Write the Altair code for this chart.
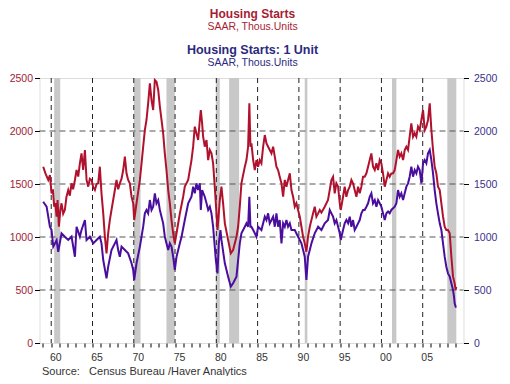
import altair as alt
import pandas as pd

# ---------------- data ----------------
red_year = [1959.03, 1959.3, 1959.64, 1959.84, 1960.04, 1960.2, 1960.36, 1960.5, 1960.65, 1960.77,
            1960.93, 1961.1, 1961.25, 1961.45, 1961.65, 1961.85, 1962.06, 1962.25, 1962.46, 1962.65,
            1962.87, 1963.07, 1963.27, 1963.47, 1963.67, 1963.87, 1964.08, 1964.28, 1964.48, 1964.68,
            1964.88, 1965.09, 1965.29, 1965.49, 1965.69, 1965.89, 1966.09, 1966.30, 1966.50, 1966.70,
            1966.90, 1967.10, 1967.30, 1967.71, 1967.91, 1968.11, 1968.31, 1968.52, 1968.72, 1968.92,
            1969.12, 1969.32, 1969.52, 1969.73, 1969.93, 1970.05, 1970.33, 1970.74, 1970.94, 1971.14,
            1971.34, 1971.54, 1971.74, 1971.95, 1972.15, 1972.35, 1972.55, 1972.75, 1972.96, 1973.16,
            1973.36, 1973.56, 1973.76, 1973.96, 1974.17, 1974.37, 1974.57, 1974.77, 1974.97, 1975.18,
            1975.38, 1975.58, 1975.78, 1975.98, 1976.18, 1976.59, 1976.99, 1977.19, 1977.39, 1977.59,
            1977.80, 1978.00, 1978.12, 1978.28, 1978.40, 1978.60, 1978.81, 1979.01, 1979.21, 1979.41,
            1979.61, 1979.81, 1979.94, 1980.14, 1980.30, 1980.42, 1980.62, 1980.82, 1981.03, 1981.43,
            1981.75, 1982.03, 1982.44, 1982.64, 1982.84, 1983.04, 1983.45, 1983.65, 1983.85, 1984.0,
            1984.13, 1984.25, 1984.46, 1984.66, 1984.86, 1985.06, 1985.26, 1985.46, 1985.67, 1985.87,
            1986.07, 1986.27, 1986.47, 1986.68, 1986.88, 1987.08, 1987.28, 1987.48, 1987.68, 1987.89,
            1988.09, 1988.29, 1988.49, 1988.69, 1988.90, 1989.10, 1989.30, 1989.50, 1989.70, 1989.90,
            1990.11, 1990.31, 1990.51, 1990.71, 1990.91, 1991.11, 1991.32, 1991.52, 1991.72, 1991.92,
            1992.12, 1992.33, 1992.53, 1992.73, 1993.13, 1993.53, 1993.94, 1994.14, 1994.34, 1994.54,
            1994.75, 1994.95, 1995.07, 1995.35, 1995.55, 1995.75, 1995.96, 1996.16, 1996.36, 1996.56,
            1996.76, 1996.97, 1997.17, 1997.37, 1997.57, 1997.77, 1997.97, 1998.18, 1998.38, 1998.58,
            1998.78, 1998.98, 1999.19, 1999.39, 1999.59, 1999.79, 1999.99, 2000.19, 2000.40, 2000.60,
            2000.80, 2001.00, 2001.20, 2001.41, 2001.61, 2001.81, 2002.01, 2002.21, 2002.41, 2002.62,
            2002.82, 2003.02, 2003.22, 2003.42, 2003.62, 2003.83, 2004.03, 2004.23, 2004.43, 2004.63,
            2004.84, 2005.04, 2005.24, 2005.44, 2005.64, 2005.85, 2006.05, 2006.25, 2006.45, 2006.65,
            2006.85, 2007.06, 2007.26, 2007.46, 2007.66, 2007.86, 2008.06, 2008.27, 2008.47, 2008.67,
            2008.87, 2008.99, 2009.05]
red_val = [1663, 1600, 1538, 1585, 1412, 1450, 1286, 1320, 1192, 1349,
           1097, 1250, 1318, 1220, 1255, 1380, 1443, 1390, 1506, 1450,
           1538, 1632, 1570, 1695, 1789, 1632, 1821, 1538, 1475, 1550,
           1538, 1470, 1443, 1500, 1506, 1663, 1412, 1223, 1003, 846,
           1037, 1160, 1255, 1443, 1538, 1450, 1506, 1550, 1632, 1758,
           1601, 1538, 1506, 1380, 1318, 1160, 1318, 1538, 1695, 1852,
           2009, 2104, 2261, 2450, 2292, 2198, 2481, 2465, 2387, 2230,
           2104, 1978, 1789, 1632, 1443, 1318, 1160, 1035, 940, 1035,
           1130, 1223, 1300, 1380, 1475, 1538, 1726, 1852, 2041, 1978,
           1915, 2104, 2198, 2072, 1946, 1852, 1915, 1726, 1821, 1789,
           1695, 1475, 1318, 1066, 1223, 1349, 1475, 1318, 1129, 972,
           846, 877, 1003, 1097, 1286, 1506, 1663, 1726, 1852, 2261,
           1852, 1884, 1726, 1632, 1726, 1663, 1726, 1695, 1852, 1962,
           1884, 1852, 1821, 1789, 1852, 1758, 1663, 1632, 1569, 1506,
           1380, 1538, 1475, 1538, 1601, 1443, 1380, 1286, 1318, 1255,
           1192, 1097, 1003, 940, 861, 1003, 1097, 1160, 1223, 1286,
           1192, 1223, 1255, 1230, 1286, 1349, 1538, 1569, 1412, 1506,
           1475, 1318, 1255, 1380, 1475, 1380, 1443, 1475, 1538, 1506,
           1443, 1380, 1475, 1412, 1475, 1569, 1569, 1601, 1663, 1726,
           1789, 1663, 1632, 1695, 1632, 1726, 1695, 1601, 1475, 1538,
           1601, 1569, 1600, 1601, 1632, 1726, 1821, 1758, 1789, 1726,
           1821, 1852, 1821, 1946, 2072, 1946, 1978, 1946, 2041, 2009,
           2104, 2198, 2009, 2041, 2104, 2261, 2009, 1821, 1663, 1601,
           1475, 1443, 1318, 1192, 1097, 1066, 1066, 1035, 814, 626,
           563, 500, 530]

pur_year = [1959.03, 1959.44, 1959.84, 1960.04, 1960.25, 1960.65, 1960.85, 1961.25, 1961.65, 1962.06,
            1962.46, 1962.87, 1963.07, 1963.47, 1963.67, 1964.08, 1964.28, 1964.68, 1965.09, 1965.49,
            1965.89, 1966.09, 1966.30, 1966.70, 1966.90, 1967.30, 1967.71, 1967.91, 1968.11, 1968.31,
            1968.52, 1968.92, 1969.32, 1969.73, 1969.93, 1970.05, 1970.33, 1970.74, 1970.94, 1971.14,
            1971.34, 1971.54, 1971.74, 1971.95, 1972.15, 1972.35, 1972.55, 1972.75, 1972.96, 1973.16,
            1973.36, 1973.56, 1973.76, 1973.96, 1974.17, 1974.37, 1974.57, 1974.77, 1974.97, 1975.18,
            1975.38, 1975.58, 1975.78, 1976.18, 1976.59, 1976.99, 1977.19, 1977.39, 1977.59, 1977.80,
            1978.00, 1978.12, 1978.28, 1978.60, 1978.81, 1979.01, 1979.21, 1979.41, 1979.61, 1979.81,
            1979.94, 1980.14, 1980.30, 1980.50, 1980.62, 1981.03, 1981.43, 1981.75, 1982.03, 1982.44,
            1982.64, 1982.84, 1983.04, 1983.45, 1983.65, 1983.85, 1984.0, 1984.13, 1984.25, 1984.46,
            1984.66, 1984.86, 1985.06, 1985.46, 1985.87, 1986.07, 1986.27, 1986.47, 1986.68, 1986.88,
            1987.08, 1987.28, 1987.48, 1987.68, 1987.89, 1988.09, 1988.29, 1988.49, 1988.69, 1988.90,
            1989.10, 1989.50, 1989.90, 1990.31, 1990.71, 1990.91, 1991.11, 1991.32, 1991.52, 1991.92,
            1992.33, 1992.73, 1993.13, 1993.53, 1993.74, 1993.94, 1994.14, 1994.34, 1994.54, 1994.75,
            1994.95, 1995.07, 1995.35, 1995.55, 1995.75, 1995.96, 1996.16, 1996.36, 1996.56, 1996.76,
            1996.97, 1997.17, 1997.37, 1997.57, 1997.77, 1997.97, 1998.18, 1998.38, 1998.58, 1998.78,
            1998.98, 1999.19, 1999.39, 1999.59, 1999.79, 1999.99, 2000.19, 2000.40, 2000.60, 2000.80,
            2001.00, 2001.20, 2001.61, 2001.81, 2002.01, 2002.21, 2002.41, 2002.62, 2002.82, 2003.02,
            2003.22, 2003.42, 2003.62, 2003.83, 2004.03, 2004.23, 2004.43, 2004.63, 2004.84, 2005.04,
            2005.24, 2005.44, 2005.64, 2005.85, 2006.05, 2006.25, 2006.45, 2006.65, 2006.85, 2007.06,
            2007.26, 2007.46, 2007.66, 2007.86, 2008.06, 2008.27, 2008.47, 2008.67, 2008.79, 2008.87,
            2008.99, 2009.1]
pur_val = [1333, 1286, 1097, 1066, 909, 970, 861, 1035, 1003, 972,
           1003, 814, 1097, 1003, 1066, 1160, 972, 1003, 940, 972,
           1003, 940, 783, 610, 720, 877, 940, 972, 877, 814,
           909, 877, 846, 752, 689, 594, 752, 909, 1003, 1097,
           1223, 1255, 1223, 1349, 1255, 1286, 1412, 1318, 1349, 1255,
           1192, 1129, 1003, 940, 877, 940, 909, 814, 689, 814,
           877, 940, 1000, 1160, 1318, 1380, 1475, 1412, 1506, 1443,
           1506, 1255, 1443, 1380, 1318, 1255, 1286, 1223, 1097, 909,
           783, 657, 940, 1066, 972, 752, 626, 531, 563, 626,
           783, 940, 1035, 1097, 1129, 1097, 1380, 1097, 1097, 1066,
           1035, 1003, 1097, 1066, 1192, 1160, 1223, 1129, 1160, 1192,
           1097, 1223, 1097, 1160, 940, 1129, 1097, 1160, 1097, 1129,
           1066, 1066, 1003, 940, 814, 594, 814, 877, 940, 1035,
           1097, 1066, 1129, 1160, 1255, 1223, 1192, 1129, 1160, 1097,
           1035, 972, 1066, 1129, 1160, 1129, 1192, 1097, 1160, 1066,
           1097, 1129, 1160, 1223, 1255, 1255, 1286, 1318, 1380, 1412,
           1318, 1349, 1286, 1349, 1318, 1286, 1223, 1160, 1223, 1240,
           1223, 1255, 1286, 1318, 1443, 1380, 1412, 1349, 1412, 1475,
           1506, 1569, 1663, 1569, 1632, 1601, 1663, 1632, 1506, 1695,
           1726, 1695, 1789, 1821, 1726, 1601, 1443, 1318, 1223, 1129,
           1066, 940, 814, 720, 657, 626, 563, 500, 437, 374,
           343, 343]

rec_start = [1960.36, 1970.0, 1973.96, 1979.94, 1981.55, 1990.71, 2001.28, 2007.98]
rec_end = [1961.09, 1970.82, 1974.97, 1980.42, 1982.76, 1991.03, 2001.81, 2009.07]

grid_years = [1960, 1965, 1970, 1975, 1980, 1985, 1990, 1995, 2000, 2005]
grid_vals = [500, 1000, 1500, 2000]
year_ticks = list(range(1959, 2010))
y_ticks = [0, 500, 1000, 1500, 2000, 2500]

RED = "#B0122E"
PURPLE = "#4A0E9E"
FONT = "Liberation Sans"
W, H = 424, 265

x_scale = alt.Scale(domain=[1958.58, 2009.94], nice=False, zero=False)
x_axis = alt.Axis(values=year_ticks, title=None, grid=False, domain=False,
                  tickSize=4, tickColor="#000", tickWidth=1,
                  labelExpr="datum.value % 5 == 0 ? slice(toString(datum.value), 2) : ''",
                  labelFont=FONT, labelFontSize=10.5, labelColor="#333",
                  labelPadding=5, labelOffset=4, labelFlush=False, labelOverlap=False)
y_scale = alt.Scale(domain=[0, 2500], nice=False, zero=True)

red_df = pd.DataFrame({"year": red_year, "value": red_val})
pur_df = pd.DataFrame({"year": pur_year, "value": pur_val})
rec_df = pd.DataFrame({"start": rec_start, "end": rec_end})
vg_df = pd.DataFrame({"year": grid_years})
hg_df = pd.DataFrame({"v": grid_vals})

rec = alt.Chart(rec_df).mark_rect(color="#C8C8C8").encode(
    x=alt.X("start:Q", scale=x_scale, axis=x_axis),
    x2="end:Q",
    y=alt.value(0), y2=alt.value(H))

vgrid = alt.Chart(vg_df).mark_rule(color="#222", strokeDash=[5, 4], strokeWidth=1).encode(
    x=alt.X("year:Q", scale=x_scale, axis=x_axis),
    y=alt.value(0), y2=alt.value(H))

hgrid = alt.Chart(hg_df).mark_rule(color="#555", strokeDash=[6, 4], strokeWidth=1).encode(
    y=alt.Y("v:Q", scale=y_scale, axis=None),
    x=alt.value(0), x2=alt.value(W))

red_line = alt.Chart(red_df).mark_line(color=RED, strokeWidth=2).encode(
    x=alt.X("year:Q", scale=x_scale, axis=x_axis),
    y=alt.Y("value:Q", scale=y_scale,
            axis=alt.Axis(orient="left", values=y_ticks, format="d", title=None, grid=False,
                          domain=False, tickSize=5, tickColor="#000", labelFont=FONT,
                          labelFontSize=10.5, labelColor="#9E2236", labelPadding=2)))

pur_line = alt.Chart(pur_df).mark_line(color=PURPLE, strokeWidth=2).encode(
    x=alt.X("year:Q", scale=x_scale, axis=x_axis),
    y=alt.Y("value:Q", scale=y_scale,
            axis=alt.Axis(orient="right", values=y_ticks, format="d", title=None, grid=False,
                          domain=False, tickSize=5, tickColor="#000", labelFont=FONT,
                          labelFontSize=10.5, labelColor="#3A2F8C", labelPadding=5)))


def label(text, x, y, color, size, bold=False, align="center"):
    return alt.Chart(pd.DataFrame({"t": [text]})).mark_text(
        font=FONT, fontSize=size, fontWeight="bold" if bold else "normal",
        color=color, align=align, baseline="middle").encode(
        text="t:N", x=alt.value(x), y=alt.value(y))


titles = [
    label("Housing Starts", 213, -64, "#A81C33", 12, True),
    label("SAAR, Thous.Units", 213, -51.5, "#A81C33", 10.5),
    label("Housing Starts: 1 Unit", 213, -28.5, "#2B2A7E", 12.5, True),
    label("SAAR, Thous.Units", 213, -15.5, "#2B2A7E", 10.5),
    label("Source:\u00a0\u00a0 Census Bureau /Haver Analytics", 2.5, 294, "#333", 11, False, "left"),
]

chart = alt.layer(rec, vgrid, hgrid, red_line, pur_line, *titles).resolve_scale(
    y="independent"
).properties(
    width=W, height=H,
    autosize=alt.AutoSizeParams(type="none"),
    padding={"left": 31.5, "top": 70, "right": 38.5, "bottom": 33},
).configure_view(stroke="#000", strokeWidth=1).configure(background="white")

chart.save("out.html", embed_options={"renderer": "svg", "actions": False})
